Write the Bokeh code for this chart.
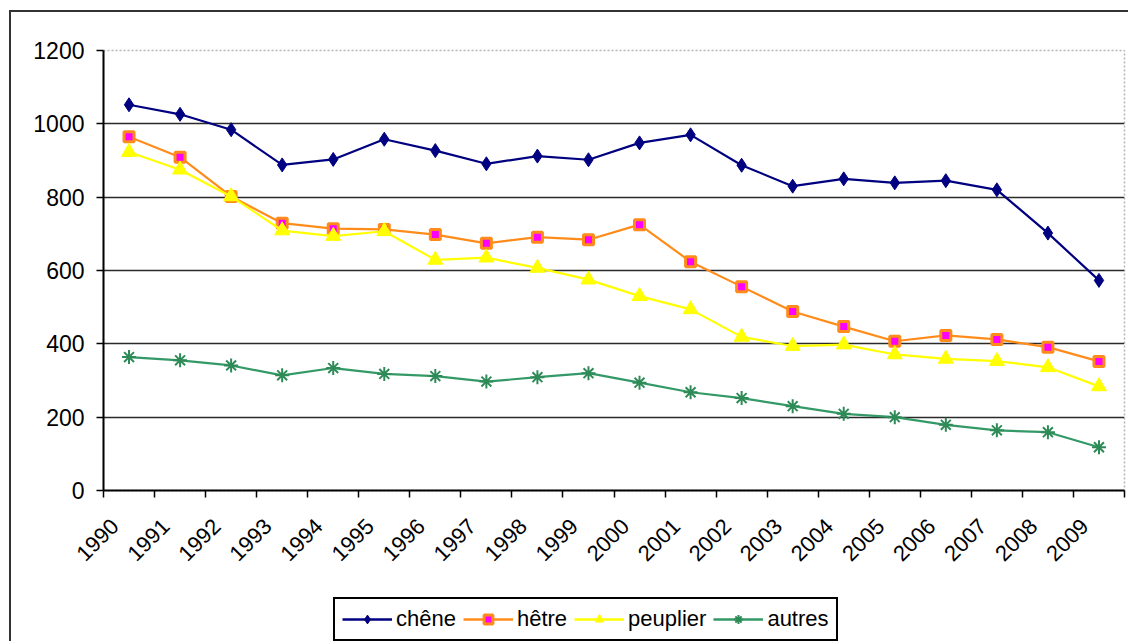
import math

from bokeh.embed import file_html
from bokeh.layouts import column
from bokeh.models import FixedTicker, Legend, LegendItem, Range1d
from bokeh.plotting import figure
from bokeh.resources import INLINE

# Annual volumes per species, 1990-2009
years = [str(y) for y in range(1990, 2010)]
chene = [1052, 1026, 984, 888, 903, 958, 927, 891, 912, 902,
         948, 970, 887, 830, 850, 839, 845, 820, 702, 573]
hetre = [965, 909, 802, 729, 714, 712, 698, 674, 691, 684,
         725, 624, 556, 488, 447, 407, 423, 412, 391, 352]
peuplier = [923, 875, 802, 709, 694, 707, 629, 635, 607, 575,
            530, 494, 419, 394, 398, 371, 359, 353, 336, 284]
autres = [364, 355, 341, 314, 334, 318, 312, 297, 309, 320,
          294, 268, 252, 230, 209, 200, 179, 164, 159, 118]
y_ticks = [0, 200, 400, 600, 800, 1000, 1200]

FONT = "Liberation Sans"
FRAME = "#333333"
n = len(years)
xs = list(range(n))
# year labels sit a little left of each category centre, like slanted spreadsheet labels
label_pos = [round(i - 0.28, 2) for i in xs]

# series styles: (line colour, marker, marker size, fill, marker line colour, marker line width)
styles = {
    "chêne": ("#000080", "diamond", 14, "#000080", "#000080", 1),
    "hêtre": ("#FF8C1A", "square", 10, "#FF00FF", "#FF8C1A", 3),
    "peuplier": ("#FFFF00", "triangle", 15, "#FFFF00", "#FFFF00", 1),
    "autres": ("#339966", "asterisk", 14, None, "#2E8B57", 2),
}
series = {"chêne": chene, "hêtre": hetre, "peuplier": peuplier, "autres": autres}

# ---------------- main chart ----------------
p = figure(
    width=1128, height=575,
    x_range=Range1d(-0.5, n - 0.5), y_range=Range1d(0, 1200),
    output_backend="svg", toolbar_location=None,
    min_border_left=103, min_border_right=4,
    min_border_top=50, min_border_bottom=85,
    background_fill_color="white", border_fill_alpha=0,
)
# outer chart frame (left and top edges) painted behind the transparent canvas border
p.styles = {
    "background": (
        f"linear-gradient({FRAME}, {FRAME}) 9px 10px / 2px 2000px no-repeat, "
        f"linear-gradient({FRAME}, {FRAME}) 9px 10px / 2000px 2px no-repeat, "
        "#ffffff"
    )
}

p.outline_line_color = "#b5b5b5"
p.outline_line_width = 1.5
p.outline_line_dash = "2 2"

xa = p.xaxis[0]
xa.ticker = FixedTicker(ticks=label_pos, minor_ticks=[i - 0.5 for i in range(n + 1)])
xa.major_label_overrides = {pos: y for pos, y in zip(label_pos, years)}
xa.major_label_orientation = math.pi / 4
xa.major_tick_in = 0
xa.major_tick_out = 0
xa.minor_tick_in = 0
xa.minor_tick_out = 7
xa.minor_tick_line_color = "black"
xa.minor_tick_line_width = 1.5
xa.axis_line_color = "black"
xa.axis_line_width = 2
xa.major_label_standoff = 25
xa.major_label_text_font = FONT
xa.major_label_text_font_size = "22px"
xa.major_label_text_color = "black"

ya = p.yaxis[0]
ya.ticker = FixedTicker(ticks=y_ticks, minor_ticks=[])
ya.major_tick_in = 0
ya.major_tick_out = 7
ya.major_tick_line_color = "black"
ya.major_tick_line_width = 1.5
ya.minor_tick_line_color = None
ya.axis_line_color = "black"
ya.axis_line_width = 2
ya.major_label_standoff = 12
ya.major_label_text_font = FONT
ya.major_label_text_font_size = "23px"
ya.major_label_text_color = "black"

p.xgrid.grid_line_color = None
p.ygrid.ticker = FixedTicker(ticks=y_ticks[1:-1])
p.ygrid.grid_line_color = "#2a2a2a"
p.ygrid.grid_line_width = 1.6

for name, values in series.items():
    lc, marker, size, fill, mlc, mlw = styles[name]
    p.line(xs, values, line_color=lc, line_width=2.2)
    p.scatter(xs, values, marker=marker, size=size,
              fill_color=fill, line_color=mlc, line_width=mlw)

# ---------------- legend strip ----------------
# the strip's ranges lie below every value, so its renderers only supply legend swatches
leg = figure(
    width=1128, height=66,
    x_range=Range1d(0, 1), y_range=Range1d(-2, -1),
    output_backend="svg", toolbar_location=None,
    min_border=0, background_fill_alpha=0, border_fill_alpha=0,
)
leg.axis.visible = False
leg.grid.grid_line_color = None
leg.outline_line_color = None
leg.styles = {
    "background": (
        f"linear-gradient({FRAME}, {FRAME}) 9px 0px / 2px 2000px no-repeat, "
        "#ffffff"
    )
}

items = []
for name, values in series.items():
    lc, marker, size, fill, mlc, mlw = styles[name]
    lr = leg.line(xs, values, line_color=lc, line_width=2.4)
    sr = leg.scatter(xs, values, marker=marker, size=size,
                     fill_color=fill, line_color=mlc, line_width=mlw)
    items.append(LegendItem(label=name, renderers=[lr, sr]))

legend = Legend(
    items=items,
    orientation="horizontal",
    location=(230, 0),
    glyph_width=50, glyph_height=22,
    label_standoff=4, spacing=7, padding=7, margin=0,
    border_line_color="black", border_line_width=2, border_line_alpha=1,
    background_fill_color="white", background_fill_alpha=1,
    label_text_font=FONT, label_text_font_size="22px",
    label_text_color="black",
)
leg.add_layout(legend, "center")

page = column(p, leg, spacing=0)
open("out.html", "w").write(file_html(page, INLINE))
